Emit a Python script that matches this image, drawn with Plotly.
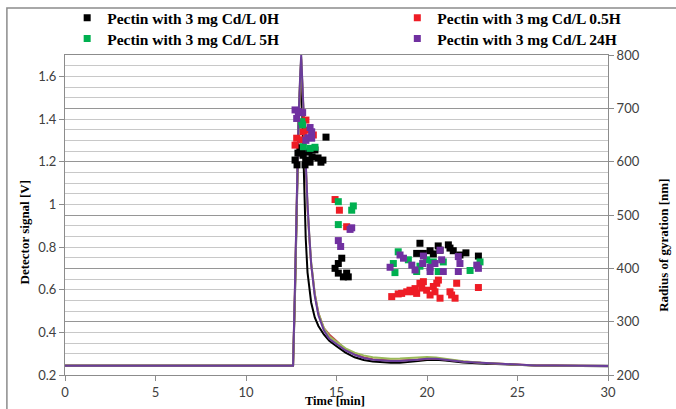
import plotly.graph_objects as go

# ---------------- data ----------------
# Detector signal curves (left axis, V)
time_line = [0, 5, 10, 12.6, 12.7, 12.8, 12.9, 13.0, 13.05, 13.1, 13.2, 13.3, 13.4, 13.5, 13.6,
             13.8, 14.0, 14.3, 14.6, 15.0, 15.5, 16.0, 16.5, 17.0, 17.5, 18.0, 18.5, 19.0, 19.5,
             20.0, 20.5, 21.0, 21.5, 22.0, 23.0, 24.0, 25.0, 26.0, 27.0, 28.0, 29.0, 30.0]
sig_0h = [0.243, 0.243, 0.243, 0.243, 0.55, 1.0, 1.35, 1.58, 1.62, 1.45, 1.1, 0.84, 0.68, 0.6, 0.54,
          0.47, 0.43, 0.39, 0.36, 0.335, 0.305, 0.283, 0.27, 0.263, 0.259, 0.257, 0.257, 0.26, 0.265,
          0.27, 0.272, 0.268, 0.263, 0.259, 0.254, 0.25, 0.246, 0.244, 0.243, 0.242, 0.241, 0.241]
sig_05h = [0.243, 0.243, 0.243, 0.243, 0.58, 1.02, 1.38, 1.6, 1.68, 1.58, 1.36, 1.16, 0.98, 0.84, 0.72,
           0.58, 0.49, 0.42, 0.39, 0.36, 0.32, 0.298, 0.283, 0.274, 0.27, 0.268, 0.268, 0.27, 0.274,
           0.277, 0.277, 0.273, 0.268, 0.263, 0.257, 0.252, 0.248, 0.245, 0.244, 0.243, 0.242, 0.242]
sig_5h = [0.243, 0.243, 0.243, 0.243, 0.57, 1.03, 1.39, 1.61, 1.69, 1.59, 1.37, 1.17, 0.99, 0.85, 0.73,
          0.58, 0.49, 0.42, 0.38, 0.355, 0.325, 0.305, 0.292, 0.283, 0.278, 0.276, 0.277, 0.28, 0.283,
          0.284, 0.282, 0.276, 0.27, 0.264, 0.258, 0.252, 0.248, 0.245, 0.244, 0.243, 0.242, 0.242]
sig_24h = [0.243, 0.243, 0.243, 0.243, 0.6, 1.05, 1.4, 1.62, 1.70, 1.60, 1.38, 1.18, 1.0, 0.85, 0.72,
           0.57, 0.48, 0.41, 0.37, 0.345, 0.315, 0.295, 0.28, 0.272, 0.268, 0.266, 0.266, 0.268, 0.272,
           0.276, 0.276, 0.272, 0.267, 0.262, 0.257, 0.252, 0.248, 0.245, 0.244, 0.243, 0.242, 0.242]

# Radius of gyration points (right axis, nm)
t_0h = [12.71, 12.87, 12.98, 13.15, 13.31, 13.48, 13.65, 13.81, 13.98, 14.14, 12.82, 13.26, 14.42, 14.25,
        13.54, 13.09,
        15.29, 15.1, 14.92, 15.1, 15.38, 15.65, 15.56,
        19.61, 19.43, 19.8, 20.17, 20.35, 20.62, 20.72, 21.18, 21.27, 21.45, 21.82, 22.15, 22.84]
rg_0h = [603, 616, 626, 612, 603, 618, 609, 622, 607, 599, 594, 594, 646, 603, 599, 622,
         419, 409, 400, 391, 384, 384, 391,
         447, 428, 428, 433, 427, 442, 434, 444, 438, 433, 425, 429, 423]

t_05h = [13.31, 13.35, 13.17, 12.80, 12.71, 13.08, 13.72,
         14.92, 15.16, 15.56,
         18.05, 18.41, 18.6, 18.88, 19.06, 19.25, 19.34, 19.43, 19.61, 19.71, 19.8, 19.98, 20.17, 20.35,
         20.44, 20.54, 20.63, 20.72, 21.27, 21.36, 21.64, 21.55, 22.84]
rg_05h = [678, 659, 656, 644, 631, 641, 650,
          529, 509, 478,
          347, 352, 353, 356, 359, 356, 362, 353, 372, 363, 375, 359, 350, 366,
          356, 372, 378, 344, 356, 350, 372, 344, 364]

t_5h = [13.08, 13.13, 13.17, 13.54, 13.81,
        15.1, 15.1, 15.84, 15.93,
        18.41, 18.14, 18.23, 18.97, 19.61, 19.98, 20.26, 20.35, 20.62, 20.9, 22.38, 22.93, 19.43]
rg_5h = [675, 669, 628, 625, 627,
         525, 482, 509, 517,
         431, 409, 392, 416, 404, 416, 409, 412, 394, 412, 396, 412, 394]

t_24h = [12.71, 12.89, 12.80, 13.13, 13.54, 13.63, 13.44, 13.31, 13.63,
         15.75, 15.84, 15.1, 15.23,
         18.51, 18.7, 17.96, 19.16, 19.34, 19.8, 20.17, 20.44, 20.72, 20.81, 20.9, 21.73, 21.82, 21.73,
         22.75, 22.84, 19.76, 20.17]
rg_24h = [697, 694, 681, 692, 664, 656, 645, 640, 644,
          473, 476, 452, 441,
          425, 419, 402, 406, 397, 423, 402, 409, 434, 416, 394, 422, 409, 394,
          406, 400, 409, 394]

names = ["Pectin with 3 mg Cd/L 0H", "Pectin with 3 mg Cd/L 0.5H",
         "Pectin with 3 mg Cd/L 5H", "Pectin with 3 mg Cd/L 24H"]
x_ticks = [0, 5, 10, 15, 20, 25, 30]
y_left_ticks = [0.2, 0.4, 0.6, 0.8, 1.0, 1.2, 1.4, 1.6]
y_left_labels = ["0.2", "0.4", "0.6", "0.8", "1", "1.2", "1.4", "1.6"]
y_right_ticks = [200, 300, 400, 500, 600, 700, 800]

# ---------------- figure ----------------
line_colors = ["#000000", "#C0504D", "#9BBB59", "#6A3D9A"]
marker_colors = ["#000000", "#EE1C25", "#00B050", "#7030A0"]
signals = [sig_0h, sig_05h, sig_5h, sig_24h]
times = [t_0h, t_05h, t_5h, t_24h]
rgs = [rg_0h, rg_05h, rg_5h, rg_24h]
legends = ["legend", "legend2", "legend3", "legend4"]

fig = go.Figure()
for sig, col in zip(signals, line_colors):
    fig.add_trace(go.Scatter(x=time_line, y=sig, mode="lines", line=dict(color=col, width=2),
                             showlegend=False, yaxis="y"))
for t, rg, col, nm, lg in zip(times, rgs, marker_colors, names, legends):
    fig.add_trace(go.Scatter(x=t, y=rg, mode="markers", name=nm, legend=lg,
                             marker=dict(symbol="square", size=7, color=col, line=dict(width=0)),
                             yaxis="y2"))

tick_font = dict(family="Lato, 'Liberation Sans', sans-serif", size=13, color="#404040")
title_font = dict(family="'Liberation Serif', 'Times New Roman', serif", size=13, color="#000000")
legend_font = dict(family="'Liberation Serif', serif", size=15.5, color="#000000", weight="bold")
axis_grey = "#8c8c8c"


def leg(x, y):
    return dict(orientation="v", x=x, y=y, xanchor="left", yanchor="top",
                font=legend_font, itemwidth=30, tracegroupgap=0, bgcolor="rgba(0,0,0,0)")


fig.update_layout(
    width=676, height=409,
    margin=dict(l=65, r=68, t=55, b=34, autoexpand=False),
    paper_bgcolor="white", plot_bgcolor="white",
    xaxis=dict(range=[0, 30], tickvals=x_ticks, showgrid=False, zeroline=False,
               showline=True, linecolor=axis_grey, linewidth=1, mirror=True,
               ticks="outside", ticklen=5, tickcolor=axis_grey, tickfont=tick_font),
    yaxis=dict(range=[0.2, 1.7], tickvals=y_left_ticks, ticktext=y_left_labels,
               showgrid=True, gridcolor="#c8c8c8", gridwidth=1, zeroline=False,
               minor=dict(dtick=0.05, tick0=0.2, showgrid=True, gridcolor="#c8c8c8", gridwidth=1),
               showline=True, linecolor=axis_grey, linewidth=1,
               ticks="outside", ticklen=5, tickcolor=axis_grey, tickfont=tick_font),
    yaxis2=dict(range=[200, 800], tickvals=y_right_ticks, overlaying="y", side="right",
                showgrid=True, gridcolor="#969696", gridwidth=1, zeroline=False,
                showline=True, linecolor=axis_grey, linewidth=1,
                ticks="outside", ticklen=5, tickcolor=axis_grey, tickfont=tick_font),
    legend=leg(0.004, 1.168),
    legend2=leg(0.612, 1.168),
    legend3=leg(0.004, 1.103),
    legend4=leg(0.612, 1.103),
    showlegend=True,
)

fig.add_annotation(text="<b>Detector signal [V]</b>", xref="paper", yref="paper",
                   x=-0.074, y=0.445, textangle=-90, showarrow=False, font=title_font,
                   xanchor="center", yanchor="middle")
fig.add_annotation(text="<b>Radius of gyration [nm]</b>", xref="paper", yref="paper",
                   x=1.102, y=0.405, textangle=-90, showarrow=False, font=title_font,
                   xanchor="center", yanchor="middle")
fig.add_annotation(text="<b>Time [min]</b>", xref="paper", yref="paper",
                   x=0.497, y=-0.105, showarrow=False,
                   font=dict(family="'Liberation Serif', 'Times New Roman', serif", size=12.5,
                             color="#000000"),
                   xanchor="center", yanchor="bottom", borderpad=0)

# outer chart border (top and left edges visible in the crop)
fig.add_shape(type="rect", xref="paper", yref="paper", x0=-0.107, y0=-0.2, x1=1.2, y1=1.147,
              line=dict(color="#8c8c8c", width=1.5), fillcolor="rgba(0,0,0,0)", layer="below")

fig.write_html("out.html")
